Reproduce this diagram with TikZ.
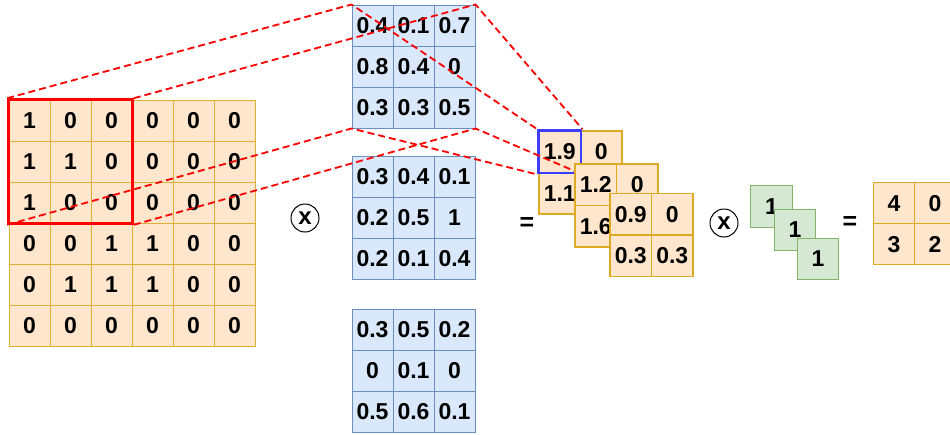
\documentclass[tikz,border=0pt]{standalone}
\usepackage{fontspec}
\setmainfont{Liberation Sans}
\usetikzlibrary{fit}

\definecolor{orfill}{HTML}{FFE6CC}
\definecolor{ordraw}{HTML}{D79B00}
\definecolor{blfill}{HTML}{DAE8FC}
\definecolor{bldraw}{HTML}{6C8EBF}
\definecolor{grfill}{HTML}{D5E8D4}
\definecolor{grdraw}{HTML}{82B366}
\definecolor{hlblue}{RGB}{60,60,255}

\tikzset{
  cell/.style={draw, line width=1pt, minimum size=41pt, inner sep=0pt,
    font=\fontsize{23}{23}\selectfont\bfseries},
  incell/.style={cell, fill=orfill, draw=ordraw!80},
  kcell/.style={cell, fill=blfill, draw=bldraw},
  fcell/.style={cell, fill=orfill, draw=ordraw!85, line width=1.2pt, minimum size=41.5pt},
  gcell/.style={cell, fill=grfill, draw=grdraw, line width=1.2pt, minimum size=41.5pt},
  proj/.style={draw=red, dash pattern=on 7pt off 4pt, line width=1.8pt},
  winbox/.style={draw=red, line width=2.6pt, inner sep=0pt},
  hlbox/.style={draw=hlblue, line width=2.6pt, inner sep=0pt},
  op/.style={circle, draw, line width=1pt, minimum size=28pt, inner sep=0pt,
    font=\fontsize{24}{24}\selectfont\bfseries},
  eq/.style={inner sep=0pt, font=\fontsize{25}{25}\selectfont\bfseries}
}

\begin{document}
\begin{tikzpicture}[x=1pt, y=-1pt]
\useasboundingbox (0,0) rectangle (950,434);

% input image 6x6
\foreach \row [count=\r] in {{1,0,0,0,0,0},{1,1,0,0,0,0},{1,0,0,0,0,0},{0,0,1,1,0,0},{0,1,1,1,0,0},{0,0,0,0,0,0}} {
  \foreach \v [count=\c] in \row {
    \node[incell] (g-\r-\c) at ({9+41*\c-20.5},{100+41*\r-20.5}) {\v};
  }
}
\node[winbox, fit=(g-1-1)(g-3-3)] (win) {};

% three 3x3 kernels
\foreach \row [count=\r] in {{0.4,0.1,0.7},{0.8,0.4,0},{0.3,0.3,0.5}} {
  \foreach \v [count=\c] in \row {
    \node[kcell] (k1-\r-\c) at ({352+41*\c-20.5},{5+41*\r-20.5}) {\v};
  }
}
\foreach \row [count=\r] in {{0.3,0.4,0.1},{0.2,0.5,1},{0.2,0.1,0.4}} {
  \foreach \v [count=\c] in \row {
    \node[kcell] (k2-\r-\c) at ({352+41*\c-20.5},{156.3+41*\r-20.5}) {\v};
  }
}
\foreach \row [count=\r] in {{0.3,0.5,0.2},{0,0.1,0},{0.5,0.6,0.1}} {
  \foreach \v [count=\c] in \row {
    \node[kcell] (k3-\r-\c) at ({352+41*\c-20.5},{309.5+41*\r-20.5}) {\v};
  }
}

% first feature map with the highlighted output cell
\foreach \row [count=\r] in {{1.9,0},{1.1,}} {
  \foreach \v [count=\c] in \row {
    \node[fcell] (f1-\r-\c) at ({539+41.5*\c-20.75},{131+41.5*\r-20.75}) {\v};
  }
}
\node[hlbox, fit=(f1-1-1)] (hl) {};

% projection of the receptive field through the kernel
\draw[proj] (win.north west) -- (k1-1-1.north west) -- (hl.north west);
\draw[proj] (win.north east) -- (k1-1-3.north east) -- (hl.north east);
\draw[proj] (win.south west) -- (k1-3-1.south west) -- (hl.south west);
\draw[proj] (win.south east) -- (k1-3-3.south east) -- (hl.south east);

% remaining feature maps
\foreach \row [count=\r] in {{1.2,0},{1.6,}} {
  \foreach \v [count=\c] in \row {
    \node[fcell] (f2-\r-\c) at ({575+41.5*\c-20.75},{164+41.5*\r-20.75}) {\v};
  }
}
\foreach \row [count=\r] in {{0.9,0},{0.3,0.3}} {
  \foreach \v [count=\c] in \row {
    \node[fcell] (f3-\r-\c) at ({610+41.5*\c-20.75},{193.5+41.5*\r-20.75}) {\v};
  }
}

% operators
\node[op] (m1) at (305,218) {x};
\node[eq] (e1) at (527,224) {=};
\node[op] (m2) at (724,223) {x};
\node[eq] (e2) at (850,223) {=};

% 1x1 kernel across three channels
\node[gcell] (w1) at (771.5,206.5) {1};
\node[gcell] (w2) at (795,230) {1};
\node[gcell] (w3) at (818,259) {1};

% result
\foreach \row [count=\r] in {{4,0},{3,2}} {
  \foreach \v [count=\c] in \row {
    \node[fcell, minimum size=41pt] (o-\r-\c) at ({873.5+41*\c-20.5},{182.7+41*\r-20.5}) {\v};
  }
}
\end{tikzpicture}
\end{document}
